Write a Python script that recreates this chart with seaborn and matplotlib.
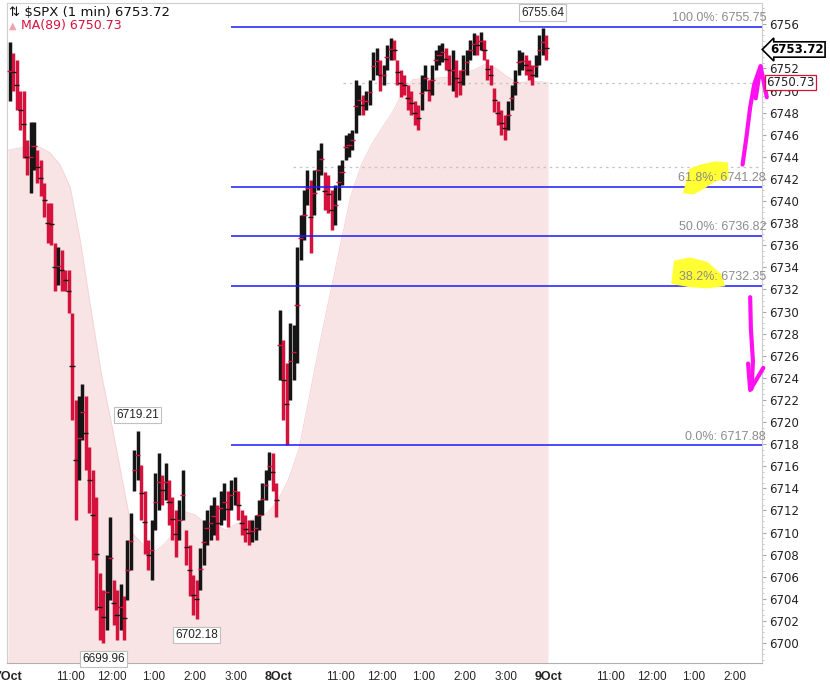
import numpy as np
import pandas as pd
import seaborn as sns
import matplotlib.pyplot as plt
from matplotlib.patches import Polygon
from matplotlib.ticker import MultipleLocator

day7_high = [6754.4, 6753.4, 6752.8, 6750.0, 6750.0, 6745.5, 6747.2, 6747.2, 6744.6, 6743.7,
             6741.6, 6739.8, 6739.8, 6736.2, 6735.8, 6735.6, 6733.8, 6733.8, 6729.9, 6722.0,
             6722.4, 6723.4, 6722.4, 6717.7, 6715.7, 6713.2, 6706.3, 6704.8, 6708.0, 6711.4,
             6705.7, 6704.8, 6705.3, 6704.3, 6709.3, 6711.8, 6717.5, 6719.21, 6716.1, 6713.8,
             6709.3, 6711.1, 6715.4, 6717.2, 6715.2, 6716.3, 6714.8, 6713.2, 6712.0, 6712.9,
             6715.7, 6710.2, 6708.9, 6706.2, 6705.7, 6708.6, 6711.1, 6712.0, 6712.5, 6713.2,
             6712.5, 6713.8, 6714.5, 6713.8, 6714.8, 6715.0, 6713.8, 6712.0, 6711.6, 6711.1,
             6711.1, 6711.6, 6712.9, 6714.5, 6715.7, 6717.3, 6717.2, 6714.5]
day7_low = [6749.1, 6750.0, 6748.2, 6746.4, 6743.9, 6742.4, 6740.7, 6742.8, 6741.6, 6740.5,
            6738.6, 6736.2, 6736.0, 6731.9, 6732.4, 6731.9, 6731.9, 6729.9, 6720.2, 6711.1,
            6714.8, 6718.4, 6715.7, 6711.8, 6707.5, 6703.0, 6700.3, 6699.96, 6701.2, 6703.9,
            6701.6, 6700.3, 6701.2, 6700.3, 6703.9, 6706.6, 6713.8, 6714.8, 6711.1, 6708.1,
            6706.6, 6705.7, 6710.2, 6712.0, 6712.5, 6712.9, 6710.7, 6709.3, 6707.8, 6709.3,
            6711.1, 6707.1, 6704.3, 6702.5, 6702.18, 6704.8, 6707.1, 6708.9, 6709.3, 6709.8,
            6709.3, 6710.7, 6711.1, 6710.5, 6712.0, 6712.5, 6711.1, 6709.8, 6709.1, 6708.9,
            6709.1, 6709.3, 6710.2, 6711.6, 6712.9, 6714.8, 6713.8, 6711.4]
day8_high = [6730.1, 6727.4, 6725.3, 6729.0, 6728.8, 6735.8, 6738.7, 6741.0, 6742.8, 6741.9,
             6742.8, 6744.6, 6745.3, 6742.6, 6742.4, 6741.0, 6741.5, 6743.3, 6743.7, 6746.0,
             6746.2, 6746.4, 6751.0, 6750.5, 6749.6, 6750.0, 6751.0, 6753.5, 6753.9, 6752.8,
             6752.3, 6754.1, 6754.8, 6754.6, 6752.8, 6751.9, 6751.4, 6750.5, 6750.0, 6749.1,
             6748.7, 6751.4, 6752.3, 6751.0, 6752.3, 6753.7, 6754.1, 6754.3, 6753.9, 6753.2,
             6753.7, 6752.8, 6751.9, 6753.2, 6753.7, 6754.6, 6755.2, 6755.0, 6755.3, 6754.6,
             6752.9, 6752.3, 6750.2, 6749.1, 6748.2, 6747.8, 6749.1, 6750.5, 6751.9, 6753.7,
             6753.5, 6753.2, 6752.8, 6752.3, 6753.2, 6755.0, 6755.64, 6755.0]
day8_low = [6723.8, 6720.2, 6717.88, 6722.0, 6723.8, 6725.3, 6734.7, 6736.5, 6739.6, 6735.3,
            6738.7, 6741.0, 6742.4, 6739.2, 6738.9, 6737.4, 6737.8, 6740.1, 6741.5, 6743.7,
            6744.0, 6744.6, 6746.2, 6747.8, 6747.8, 6748.2, 6748.7, 6751.0, 6751.4, 6750.0,
            6750.5, 6751.9, 6752.8, 6752.8, 6750.5, 6749.4, 6749.6, 6748.2, 6747.8, 6746.9,
            6746.4, 6748.2, 6750.0, 6749.1, 6749.6, 6751.9, 6752.3, 6752.6, 6751.9, 6750.5,
            6750.0, 6749.4, 6749.6, 6750.5, 6751.4, 6752.8, 6753.2, 6753.2, 6753.7, 6752.8,
            6751.0, 6750.5, 6748.1, 6746.9, 6746.0, 6745.5, 6746.4, 6748.2, 6749.6, 6751.4,
            6751.9, 6751.4, 6751.0, 6750.5, 6751.2, 6752.3, 6753.2, 6752.8]
last_price = 6753.72

# MA(89) sampled every 15 minutes of session time
ma_values = [6744.6, 6744.8, 6744.9, 6744.9, 6744.4, 6743.3, 6741.2, 6736.2, 6730.1, 6724.3,
             6719.7, 6714.8, 6709.9, 6708.9, 6708.1, 6708.9, 6710.0, 6711.9, 6711.6, 6710.8,
             6710.7, 6710.2, 6710.8, 6711.0, 6711.3, 6711.8, 6712.9, 6714.8, 6717.5, 6722.2,
             6727.0, 6731.5, 6736.0, 6740.4, 6743.2, 6745.1, 6746.6, 6748.0, 6749.8, 6751.0,
             6751.1, 6751.1, 6751.2, 6751.2, 6751.6, 6751.9, 6752.4, 6752.0, 6751.3, 6750.7,
             6750.8, 6750.8, 6750.73]

fib_low = 6717.88
fib_high = 6755.75
fib_pcts = [0.0, 38.2, 50.0, 61.8, 100.0]
ref_level = 6743.1

day_labels = ["7Oct", "8Oct", "9Oct"]
hour_labels = ["11:00", "12:00", "1:00", "2:00", "3:00"]
hour_offsets = [90, 150, 210, 270, 330]   # minutes after the 9:30 open

# ---- build frames
highs = np.array(day7_high + day8_high)
lows = np.array(day7_low + day8_low)
bars = pd.DataFrame({"minute": np.arange(len(highs)) * 5 + 2.5, "high": highs, "low": lows})
bars["mid"] = (bars["high"] + bars["low"]) / 2
bars["up"] = bars["mid"].diff().fillna(0) >= 0
ma = pd.DataFrame({"minute": np.arange(len(ma_values)) * 15, "ma": ma_values})

RED = "#d4123c"
BLK = "#151515"
x_end = 1089
y_lo, y_hi = 6698.19, 6757.92

sns.set_style("white")
plt.rcParams["font.family"] = ["Liberation Sans", "DejaVu Sans"]

fig = plt.figure(figsize=(8.3, 6.86), dpi=100)
ax = fig.add_axes([0.0084, 0.0335, 0.9096, 0.962])

# MA(89) area
ax.fill_between(ma["minute"], y_lo, ma["ma"], color="#f8e4e5", lw=0, zorder=1)
sns.lineplot(data=ma, x="minute", y="ma", ax=ax, color="#f4d4d9", lw=0.7, zorder=2)

# dotted reference lines
ax.hlines(ma_values[-1], 484, x_end, colors="#c4c4c4", lw=0.9, ls=(0, (2, 3)), zorder=2)
ax.hlines(ref_level, 412, x_end, colors="#c4c4c4", lw=0.9, ls=(0, (2, 3)), zorder=2)

# price bars
cols = np.where(bars["up"], BLK, RED)
ax.vlines(bars["minute"], bars["low"], bars["high"], colors=cols, lw=2.5, zorder=4)
ax.scatter(bars["minute"], bars["mid"], c=np.where(bars["up"], RED, BLK), marker="_",
           s=14, lw=1, zorder=5)

# fibonacci levels
rng = fib_high - fib_low
for pct in fib_pcts:
    lvl = fib_low + rng * pct / 100
    ax.hlines(lvl, 322, x_end, colors="#1a1aff", lw=1.1, zorder=6)
    ax.annotate(f"{pct:.1f}%: {lvl:.2f}", xy=(x_end, lvl), xytext=(3, 2),
                textcoords="offset points", ha="right", va="bottom",
                color="#8c8c8c", fontsize=9, zorder=8, annotation_clip=False)

# yellow marker highlights on 61.8% and 38.2%
ax.add_patch(Polygon([(975, 6740.7), (984, 6742.9), (1000, 6743.3), (1022, 6743.6), (1040, 6743.5),
                      (1041, 6742.0), (1022, 6741.8), (1005, 6741.1), (990, 6740.6)],
                     closed=True, fc="#ffff33", ec="none", zorder=7, clip_on=False))
ax.add_patch(Polygon([(958, 6732.5), (962, 6734.6), (985, 6734.9), (1010, 6734.5), (1030, 6733.4),
                      (1036, 6732.3), (1010, 6732.1), (985, 6732.2)],
                     closed=True, fc="#ffff33", ec="none", zorder=7, clip_on=False))

# hand-drawn magenta arrows
MAG = "#ff10f0"
ax.plot([1061, 1066, 1072, 1078, 1087], [6743.3, 6745.5, 6748.5, 6750.6, 6752.2],
        color=MAG, lw=3, solid_capstyle="round", zorder=9, clip_on=False)
ax.plot([1080, 1087, 1096], [6749.3, 6752.2, 6749.4], color=MAG, lw=3, zorder=9, clip_on=False)
ax.plot([1072, 1073, 1076, 1074], [6731.3, 6728.5, 6725.5, 6723.0],
        color=MAG, lw=3, solid_capstyle="round", zorder=9, clip_on=False)
ax.plot([1069, 1072, 1091], [6725.3, 6722.9, 6724.9], color=MAG, lw=3, zorder=9, clip_on=False)

# swing labels
def swing_label(i, above):
    row = bars.iloc[i]
    v = row["high"] if above else row["low"]
    off = 7 if above else -7
    ax.annotate(f"{v:.2f}", xy=(row["minute"], v), xytext=(0, off), textcoords="offset points",
                ha="center", va="bottom" if above else "top", fontsize=8.5, color="#222",
                bbox=dict(boxstyle="square,pad=0.18", fc="white", ec="#c0c0c0", lw=0.8),
                zorder=10, annotation_clip=False)

swing_label(int(bars["low"].idxmin()), False)
swing_label(int(bars["high"].iloc[30:50].idxmax()), True)
swing_label(int(bars["low"].iloc[45:70].idxmin()), False)
swing_label(int(bars["high"].idxmax()), True)

# axes
ax.set_xlim(-1.5, x_end)
ax.set_ylim(y_lo, y_hi)
ax.set_xlabel("")
ax.set_ylabel("")

ticks, labels = [], []
for d, name in enumerate(day_labels):
    ticks.append(390 * d)
    labels.append(name)
    for off, h in zip(hour_offsets, hour_labels):
        if 390 * d + off < x_end:
            ticks.append(390 * d + off)
            labels.append(h)
ax.set_xticks(ticks)
ax.set_xticklabels(labels, fontsize=8.5)
for t in ax.get_xticklabels():
    if "Oct" in t.get_text():
        t.set_fontweight("bold")
        t.set_fontsize(9)

ax.yaxis.tick_right()
ax.set_yticks(np.arange(6700, 6757, 2))
ax.set_yticklabels([str(v) for v in range(6700, 6757, 2)], fontsize=8.5, family="DejaVu Sans", color="#222")
ax.yaxis.set_minor_locator(MultipleLocator(0.5))
ax.tick_params(axis="y", which="major", length=3, color="#aaaaaa", pad=2)
ax.tick_params(axis="y", which="minor", length=1.5, color="#bbbbbb")
ax.tick_params(axis="x", length=3, color="#aaaaaa", pad=3)
for s in ["left", "top"]:
    ax.spines[s].set_color("#cfcfcf")
ax.spines["right"].set_color("#cccccc")
ax.spines["bottom"].set_color("#b0b0b0")

# last price tags on the scale
ax.annotate(f"{last_price:.2f}", xy=(1.0, last_price), xycoords=("axes fraction", "data"),
            xytext=(6, 0), textcoords="offset points", ha="left", va="center",
            fontsize=8.5, fontweight="bold", family="DejaVu Sans", color="black",
            bbox=dict(boxstyle="larrow,pad=0.1", fc="white", ec="black", lw=1.2), zorder=12,
            annotation_clip=False)
ax.annotate(f"{ma_values[-1]:.2f}", xy=(1.0, ma_values[-1]), xytext=(3, 0),
            xycoords=("axes fraction", "data"), textcoords="offset points", ha="left", va="center",
            fontsize=8.5, family="DejaVu Sans", color="#222",
            bbox=dict(boxstyle="square,pad=0.12", fc="white", ec=RED, lw=0.9), zorder=12,
            annotation_clip=False)

# header
fig.text(9 / 830, 1 - 13 / 686, f"\u21c5 $SPX (1 min) {last_price:.2f}", fontsize=9.5,
         family=["DejaVu Sans"], color="#111", va="center", ha="left")
fig.text(9 / 830, 1 - 26 / 686, "\u25b2", fontsize=7, family=["DejaVu Sans"], color="#f0a0b0",
         va="center", ha="left")
fig.text(21 / 830, 1 - 26 / 686, f"MA(89) {ma_values[-1]:.2f}", fontsize=9,
         family=["DejaVu Sans"], color=RED, va="center", ha="left")

fig.savefig("out.png", dpi=100)
